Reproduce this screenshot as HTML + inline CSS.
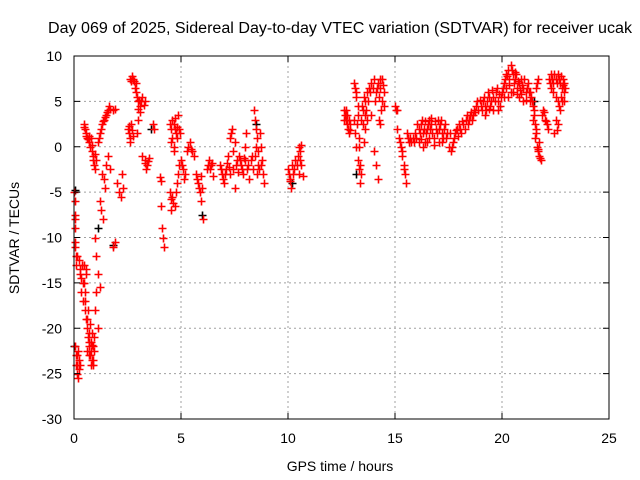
<!DOCTYPE html>
<html><head><meta charset="utf-8"><style>
body{margin:0;background:#fff;}
svg{display:block;font-family:"Liberation Sans",sans-serif;}
</style></head><body>
<svg width="640" height="480" viewBox="0 0 640 480">
<rect width="640" height="480" fill="#fff"/>
<g id="grid"></g>
<g id="marks"></g>
<rect x="74" y="56" width="535" height="363" fill="none" stroke="#000" stroke-width="1"/>
<g id="ticks" font-size="14"></g>
<text x="340" y="33" font-size="15.5" text-anchor="middle" textLength="584" lengthAdjust="spacingAndGlyphs">Day 069 of 2025, Sidereal Day-to-day VTEC variation (SDTVAR) for receiver ucak</text>
<text x="340" y="471" font-size="14" text-anchor="middle">GPS time / hours</text>
<text transform="translate(19,238) rotate(-90)" font-size="14" text-anchor="middle">SDTVAR / TECUs</text>
</svg>
<script>
const xTicks=[0,5,10,15,20,25];
const yTicks=[10,5,0,-5,-10,-15,-20,-25,-30];
const points=[
[0.02,-5],[0.03,-6],[0.04,-7.5],[0.05,-9],[0.06,-10.5],[0.08,-12],[0.1,-13],[0.05,-22],[0.1,-23],[0.12,-24],[0.15,-25],[0.2,-25.5],[0.18,-22.5],[0.25,-23.5],[0.3,-24],
[0.25,-12.5],[0.3,-13.5],[0.35,-14.5],[0.4,-15],[0.45,-13],[0.5,-16],[0.55,-14],[0.42,-17],[0.33,-16],
[0.5,-18],[0.55,-19],[0.6,-20],[0.65,-21],[0.7,-22],[0.75,-23],[0.8,-24],[0.85,-23.5],[0.9,-22],[0.95,-21],[0.7,-20.5],[0.8,-21.5],[0.9,-23.5],[0.6,-22.5],[0.65,-18],
[1.0,-10],[1.05,-12],[1.1,-14],[1.05,-16],[1.0,-18],[1.1,-20],[1.2,-6],[1.25,-7],[1.2,-15.5],[1.35,-8],
[0.45,2.5],[0.5,2],[0.55,1.5],[0.6,1],[0.7,0.5],[0.75,0],[0.8,1],[0.85,-0.5],[0.9,-1],[0.95,-2],[1.0,-2.5],[1.05,-1.5],[1.1,0.5],[1.2,1.5],[1.3,2.5],[1.4,3],[1.5,3.5],[1.6,4],[1.7,4.2],[1.8,4],
[1.3,-3],[1.4,-3.5],[1.45,-4.5],[1.5,-2],[1.6,-1],[1.7,-2.5],[1.8,-11],[1.9,-10.5],
[2.0,-4],[2.1,-5],[2.2,-5.5],[2.3,-4.5],[2.25,-3],
[2.5,2],[2.55,1.5],[2.6,1],[2.65,2.5],[2.7,1.8],[2.6,7.5],[2.7,7.8],[2.8,7.2],[2.9,7],[2.85,6.5],[2.95,5.5],[3.0,5],[3.1,4.5],[3.2,5.5],[3.3,5],[3.1,3.8],[3.0,3],[2.95,1.5],
[3.2,-1],[3.3,-1.5],[3.4,-2],[3.5,-1.2],[3.35,-2.5],[3.7,2.5],[3.75,2],[4.0,-3.3],[4.05,-3.8],[4.1,-9],[4.15,-10],[4.2,-11],[4.05,-6.5],
[4.5,2.5],[4.6,3],[4.7,2],[4.8,1],[4.85,3.5],[4.9,2],[4.55,0.5],[4.65,-0.5],[4.75,1.5],
[4.5,-5],[4.6,-5.5],[4.7,-6.5],[4.55,-7],[4.8,-4],[4.9,-2],[5.0,-1.5],[5.1,-2.5],[5.2,-3],[5.3,-0.5],[5.4,0.5],[5.5,-0.5],[5.6,-1],
[5.7,-3],[5.8,-4],[5.9,-5],[6.0,-4.5],[5.95,-6],[6.05,-8],[6.2,-2.5],[6.3,-1.5],[6.4,-2],[6.5,-3.2],
[6.8,-2],[6.9,-3],[7.0,-4],[7.1,-2.5],[7.2,-1],[7.3,1],[7.4,2],[7.5,0.5],[7.6,-1.5],[7.3,-3],[7.5,-4.5],[7.45,-2.5],
[7.7,-1],[7.8,-2],[7.9,-3],[8.0,-1.5],[8.1,-2.5],[8.2,-3.5],[8.3,-1],[8.05,1.5],[8.0,0],
[8.4,4],[8.45,3],[8.5,2],[8.55,1],[8.45,-1],[8.6,-2],[8.55,-3],[8.7,1.5],[8.75,0],[8.8,-1.5],[8.85,-3],[8.9,-4],
[10.0,-2.5],[10.05,-3],[10.1,-3.5],[10.15,-4.5],[10.2,-2],[10.3,-2.5],[10.35,-1.5],[10.45,-1],[10.5,0],[10.55,-0.5],[10.6,-2],[10.5,-3],[10.7,-3.2],
[12.6,4],[12.65,3.5],[12.7,3],[12.75,2.5],[12.8,2],[12.85,1.5],[12.9,2.5],
[13.1,7],[13.15,6.5],[13.2,5.5],[13.25,4.5],[13.1,3],[13.15,1.5],[13.2,0],[13.25,-1.5],[13.3,-2.5],[13.35,-4],[13.4,-3],[13.3,1],
[13.4,3],[13.5,4],[13.6,5],[13.7,6],[13.8,6.5],[13.9,7],[14.0,7.5],[14.1,6],[14.2,7],[14.3,6.5],[14.4,7.5],[14.5,6],[14.35,4],[14.25,3],[13.9,3.5],[13.7,3],[13.6,2],[13.55,0.5],[14.5,4.5],
[14.0,-0.5],[14.1,-2],[14.2,-3.5],[15.0,4.5],[15.1,4],
[15.1,2],[15.2,1],[15.3,0],[15.35,-1],[15.4,-2],[15.45,-3],[15.5,-4],[15.55,1.5],[15.65,0.5],[15.7,1],
[15.9,0.5],[16.0,1],[16.1,2],[16.2,2.5],[16.3,1.5],[16.4,0.5],[16.5,2],[16.6,3],[16.7,2.5],[16.8,1],[16.9,2],[17.0,3],[17.1,2.5],[17.2,1.5],[17.3,2],[17.4,1],[17.5,0],[17.6,-0.5],[17.7,0.5],[16.3,0],[16.6,1],[17.05,0.5],[17.55,1.5],[16.1,0.5],
[17.8,1.5],[17.9,2],[18.0,2.5],[18.1,1.5],[18.2,2.5],[18.3,3],[18.4,2.5],[18.5,3.5],[18.6,3],[18.7,4],[18.8,4.5],[18.9,4],[19.0,4.5],[19.1,5],[19.2,4.5],[19.3,5],[19.4,5.5],[19.5,5],[19.6,5.5],[19.7,6],[19.8,5],[19.9,4.5],[19.6,4],[19.2,3.5],
[20.0,6],[20.1,7],[20.2,8],[20.3,8.5],[20.4,9],[20.5,8],[20.6,7.5],[20.7,6.5],[20.8,7],[20.9,7.5],[21.0,6.5],[21.1,6],[21.2,7],[20.3,5.5],[20.5,6],[20.8,5.5],[21.0,5],[20.2,6.5],[20.6,8.2],[21.3,5],
[21.3,6],[21.4,5],[21.5,4],[21.45,3],[21.6,2],[21.55,1],[21.65,0],[21.7,-0.5],[21.75,-1],[21.8,-1.5],[21.6,6.5],[21.7,7.5],
[21.9,4],[22.0,3],[22.1,2.5],[22.15,2],[22.2,7.5],[22.3,8],[22.4,7],[22.5,7.5],[22.6,8],[22.7,7],[22.8,6.5],[22.4,6],[22.6,5],[22.7,4],[22.5,3],[22.45,1.5],[22.55,1.8],[22.8,5],[22.85,7.5],[22.9,6]
];
const extraPoints=[
[0.03,-8],[0.07,-11],[0.12,-12],[0.08,-24],[0.14,-23],[0.22,-24.5],[0.28,-14],[0.38,-13],[0.48,-15],[0.52,-17],[0.58,-13.5],[0.62,-19],[0.68,-23],[0.72,-21.5],[0.78,-22.5],[0.83,-20.5],[0.88,-24],[0.92,-22.5],[0.75,-19.5],[0.85,-21.8],
[0.48,2.2],[0.58,1.2],[0.65,0.8],[0.72,1.2],[0.82,0.2],[0.88,-1.5],[0.98,-0.8],[1.15,1],[1.25,2],[1.35,2.8],[1.45,3.3],[1.55,3.8],[1.65,4.5],[1.9,4.2],
[2.65,7.2],[2.75,7.5],[2.9,6],[3.0,4.2],[3.05,5.2],[3.15,5],[3.25,4.6],[2.55,2.3],[2.75,1.2],[2.6,0.5],[3.3,-1.8],[3.45,-1.6],
[4.55,2],[4.65,2.5],[4.72,3.2],[4.82,2.2],[4.95,1.5],[4.6,1],[4.68,0],[4.52,-5.8],[4.62,-6.2],[4.75,-5],[4.85,-3],[5.05,-2],[5.15,-3.5],[5.35,0],[5.45,-0.2],[5.75,-3.5],[5.85,-4.5],[5.92,-3.2],[6.25,-2],[6.35,-2.5],[6.45,-1.8],
[6.85,-2.5],[6.95,-3.5],[7.05,-3],[7.15,-1.8],[7.25,-2.2],[7.35,1.5],[7.42,-0.5],[7.55,-2],[7.65,-2.8],[7.75,-1.5],[7.85,-2.5],[7.95,-1.2],[8.15,-2],[8.25,-1.5],[8.35,-2.5],[8.5,0],[8.6,-0.5],[8.65,-2.5],[8.75,-2],
[10.08,-3.8],[10.25,-3],[10.4,-2],[10.55,-1.5],[10.62,0.2],
[12.62,3],[12.7,4],[12.78,3.5],[12.85,3],[12.92,1.8],
[13.18,6],[13.22,2.5],[13.28,3.5],[13.45,4.5],[13.55,5.5],[13.65,4],[13.75,5],[13.85,6],[13.95,6.5],[14.05,5],[14.15,6.5],[14.25,5.5],[14.3,7.5],[14.4,5],[14.45,6.8],[13.5,2.5],[13.6,3.5],[14.3,2.5],[13.3,0],[13.35,-2],
[15.05,4],[15.25,0.5],[15.32,-0.5],[15.42,-2.5],[15.6,1],[15.75,0.5],
[15.85,1],[15.95,1.5],[16.05,2.5],[16.15,1.5],[16.25,3],[16.35,2],[16.45,1.5],[16.55,2.5],[16.65,2],[16.75,1.5],[16.85,2.8],[16.95,1.5],[17.05,2],[17.15,3],[17.25,1],[17.35,2.5],[17.45,1.5],[17.65,0],[16.2,0.8],[16.5,0.5],[16.8,0.2],[17.2,0.5],[16.7,3.2],[16.4,2.8],
[17.75,1],[17.85,1.8],[17.95,1.2],[18.05,2],[18.15,2.8],[18.25,2],[18.35,3.5],[18.45,3],[18.55,3.8],[18.65,3.5],[18.75,3.8],[18.85,5],[18.95,5.2],[19.05,4],[19.15,5.5],[19.25,4],[19.35,6],[19.45,4.5],[19.55,6.2],[19.65,5],[19.75,6.5],[19.85,5.8],[19.95,5.5],[19.4,4.2],[19.8,4],
[20.05,6.5],[20.15,7.5],[20.25,7.8],[20.35,7.5],[20.45,8.5],[20.55,7],[20.65,8],[20.75,7.2],[20.85,6.2],[20.95,6.8],[21.05,7.5],[21.15,6.5],[21.25,6],[20.1,5.5],[20.4,6],[20.7,5.8],[20.9,5.8],[21.1,5.2],[20.35,6.8],
[21.35,5.5],[21.45,4.5],[21.5,3.5],[21.55,2.5],[21.6,1.5],[21.65,7],[21.68,-0.2],[21.72,0.5],[21.78,-1.2],
[21.85,3.5],[21.95,3.8],[22.05,2.8],[22.25,7],[22.35,7.5],[22.45,8],[22.55,7],[22.65,7.5],[22.75,7.8],[22.85,6.8],[22.3,6.5],[22.5,5.5],[22.65,4.5],[22.75,5.5],[22.9,5],[22.6,2.5],[22.9,7],[22.95,6.5]
];
const blackPoints=[[0.0,-22],[0.05,-4.8],[1.1,-9],[1.8,-10.8],[3.6,2],[6.0,-7.5],[8.5,2.5],[10.2,-4],[21.5,5],[13.2,-3]];
const X0=74,X1=609,Y0=419,Y1=56;
function sx(t){return X0+(t-0)/(25-0)*(X1-X0);}
function sy(v){return Y0-(v+30)/40*(Y0-Y1);}
const ns="http://www.w3.org/2000/svg";
const grid=document.getElementById('grid'),ticks=document.getElementById('ticks'),marks=document.getElementById('marks');
xTicks.forEach(t=>{
  const x=sx(t);
  if(t>0&&t<25){const l=document.createElementNS(ns,'line');
  
  
  l.setAttribute('x1',x);l.setAttribute('x2',x);l.setAttribute('y1',Y1);l.setAttribute('y2',Y0);
  l.setAttribute('stroke','#a0a0a0');l.setAttribute('stroke-dasharray','2,3');grid.appendChild(l);}
  const tk=document.createElementNS(ns,'path');
  
  
  tk.setAttribute('d',`M${x} ${Y0}v-6M${x} ${Y1}v6`);tk.setAttribute('stroke','#000');ticks.appendChild(tk);
  const tx=document.createElementNS(ns,'text');
  
  
  tx.setAttribute('x',x);tx.setAttribute('y',443);tx.setAttribute('text-anchor','middle');tx.textContent=t;ticks.appendChild(tx);
});
yTicks.forEach(v=>{
  const y=sy(v);
  if(v>-30&&v<10){const l=document.createElementNS(ns,'line');
  
  
  l.setAttribute('x1',X0);l.setAttribute('x2',X1);l.setAttribute('y1',y);l.setAttribute('y2',y);
  l.setAttribute('stroke','#a0a0a0');l.setAttribute('stroke-dasharray','2,3');grid.appendChild(l);}
  const tk=document.createElementNS(ns,'path');
  
  
  tk.setAttribute('d',`M${X0} ${y}h6M${X1} ${y}h-6`);tk.setAttribute('stroke','#000');ticks.appendChild(tk);
  const tx=document.createElementNS(ns,'text');
  
  
  tx.setAttribute('x',62);tx.setAttribute('y',y+5);tx.setAttribute('text-anchor','end');tx.textContent=v;ticks.appendChild(tx);
});
function plus(arr,color,name){
  let d='';
  arr.forEach(p=>{const x=Math.round(sx(p[0]))+0.5,y=Math.round(sy(p[1]))+0.5;d+=`M${x-4} ${y}h8M${x} ${y-4}v8`;});
  const pth=document.createElementNS(ns,'path');
  
  
  pth.setAttribute('d',d);pth.setAttribute('stroke',color);pth.setAttribute('stroke-width','1.6');pth.setAttribute('fill','none');
  marks.appendChild(pth);
}
plus(blackPoints,'#000','reference-series');
plus(points,'#ff0000','sdtvar-series');
plus(extraPoints,'#ff0000','sdtvar-series-extra');
</script>
</body></html>
